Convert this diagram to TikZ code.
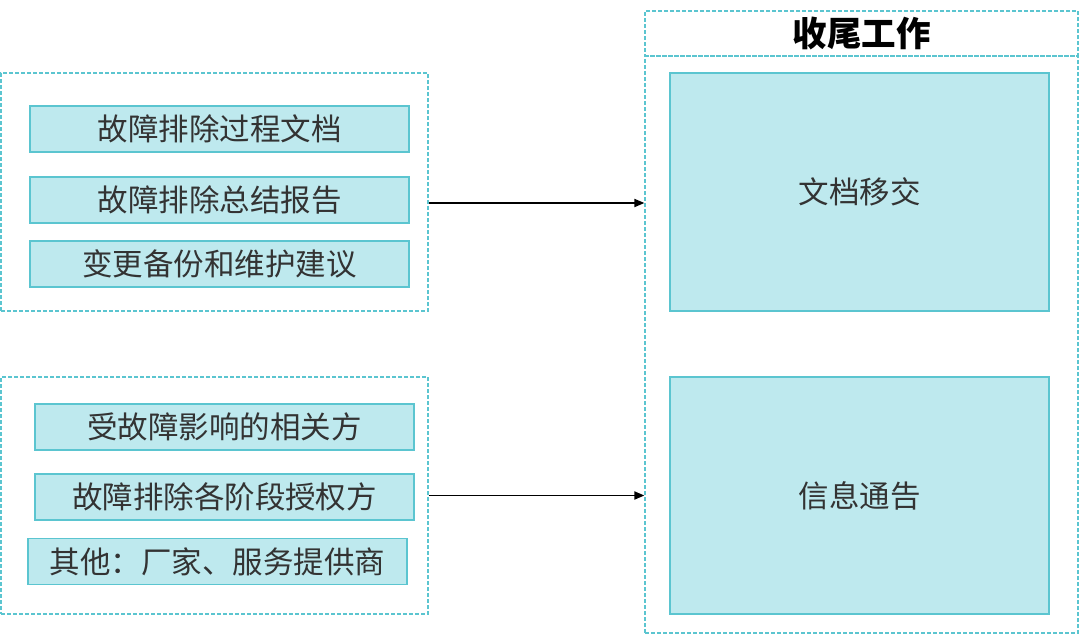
\documentclass[tikz,border=0pt]{standalone}
\usepackage{fontspec}
\setmainfont{Noto Sans CJK SC}
\usetikzlibrary{arrows.meta, positioning}
\definecolor{wrapfill}{HTML}{BEE9EE}
\definecolor{wrapline}{HTML}{5BC5D0}
\definecolor{wraptext}{HTML}{333333}

\begin{document}
\begin{tikzpicture}[x=1pt, y=-1pt,
      item/.style={draw=wrapline, line width=1.5pt, fill=wrapfill,
                   minimum width=379pt, minimum height=46pt, inner sep=0pt,
                   font=\fontsize{30.5}{32}\selectfont, text=wraptext},
      group/.style={draw=wrapline, dashed, dash pattern=on 4pt off 2pt,
                    line width=1.2pt, inner sep=0pt},
      arr/.style={-{Triangle[length=10pt, width=8pt]}, line width=1.8pt},
    ]
    \useasboundingbox (0,0) rectangle (1080,635);

    % ── Left column: documents ──
    \node[group, minimum width=427pt, minimum height=238pt] (docgrp) at (214.5,192) {};
    \node[item] (proc)   at (219.5,129) {故障排除过程文档};
    \node[item] (report) at (219.5,200) {故障排除总结报告};
    \node[item] (backup) at (219.5,264) {变更备份和维护建议};

    % ── Left column: parties ──
    \node[group, minimum width=427pt, minimum height=237pt] (partgrp) at (214.5,495.5) {};
    \node[item] (affect) at (224.5,427) {受故障影响的相关方};
    \node[item] (auth)   at (224.5,497) {故障排除各阶段授权方};
    \node[item] (other)  at (217.5,561.5) {其他：厂家、服务提供商};

    % ── Right column: wrap-up ──
    \node[group, minimum width=433pt, minimum height=577pt] (body) at (861.5,344.5) {};
    \node[group, minimum width=433pt, minimum height=45pt,
          font=\fontsize{34.5}{36}\selectfont\bfseries] (head) at (861.5,33.5) {收尾工作};
    \node[item, minimum height=238pt] (handover) at (859.5,192)   {文档移交};
    \node[item, minimum height=237pt] (notice)   at (859.5,495.5) {信息通告};

    % arrows into the wrap-up column
    \draw[arr] ([yshift=-11pt]docgrp.east) -- ([yshift=-11pt]docgrp.east -| body.west);
    \draw[arr] (partgrp.east) -- (partgrp.east -| body.west);
  \end{tikzpicture}
\end{document}
